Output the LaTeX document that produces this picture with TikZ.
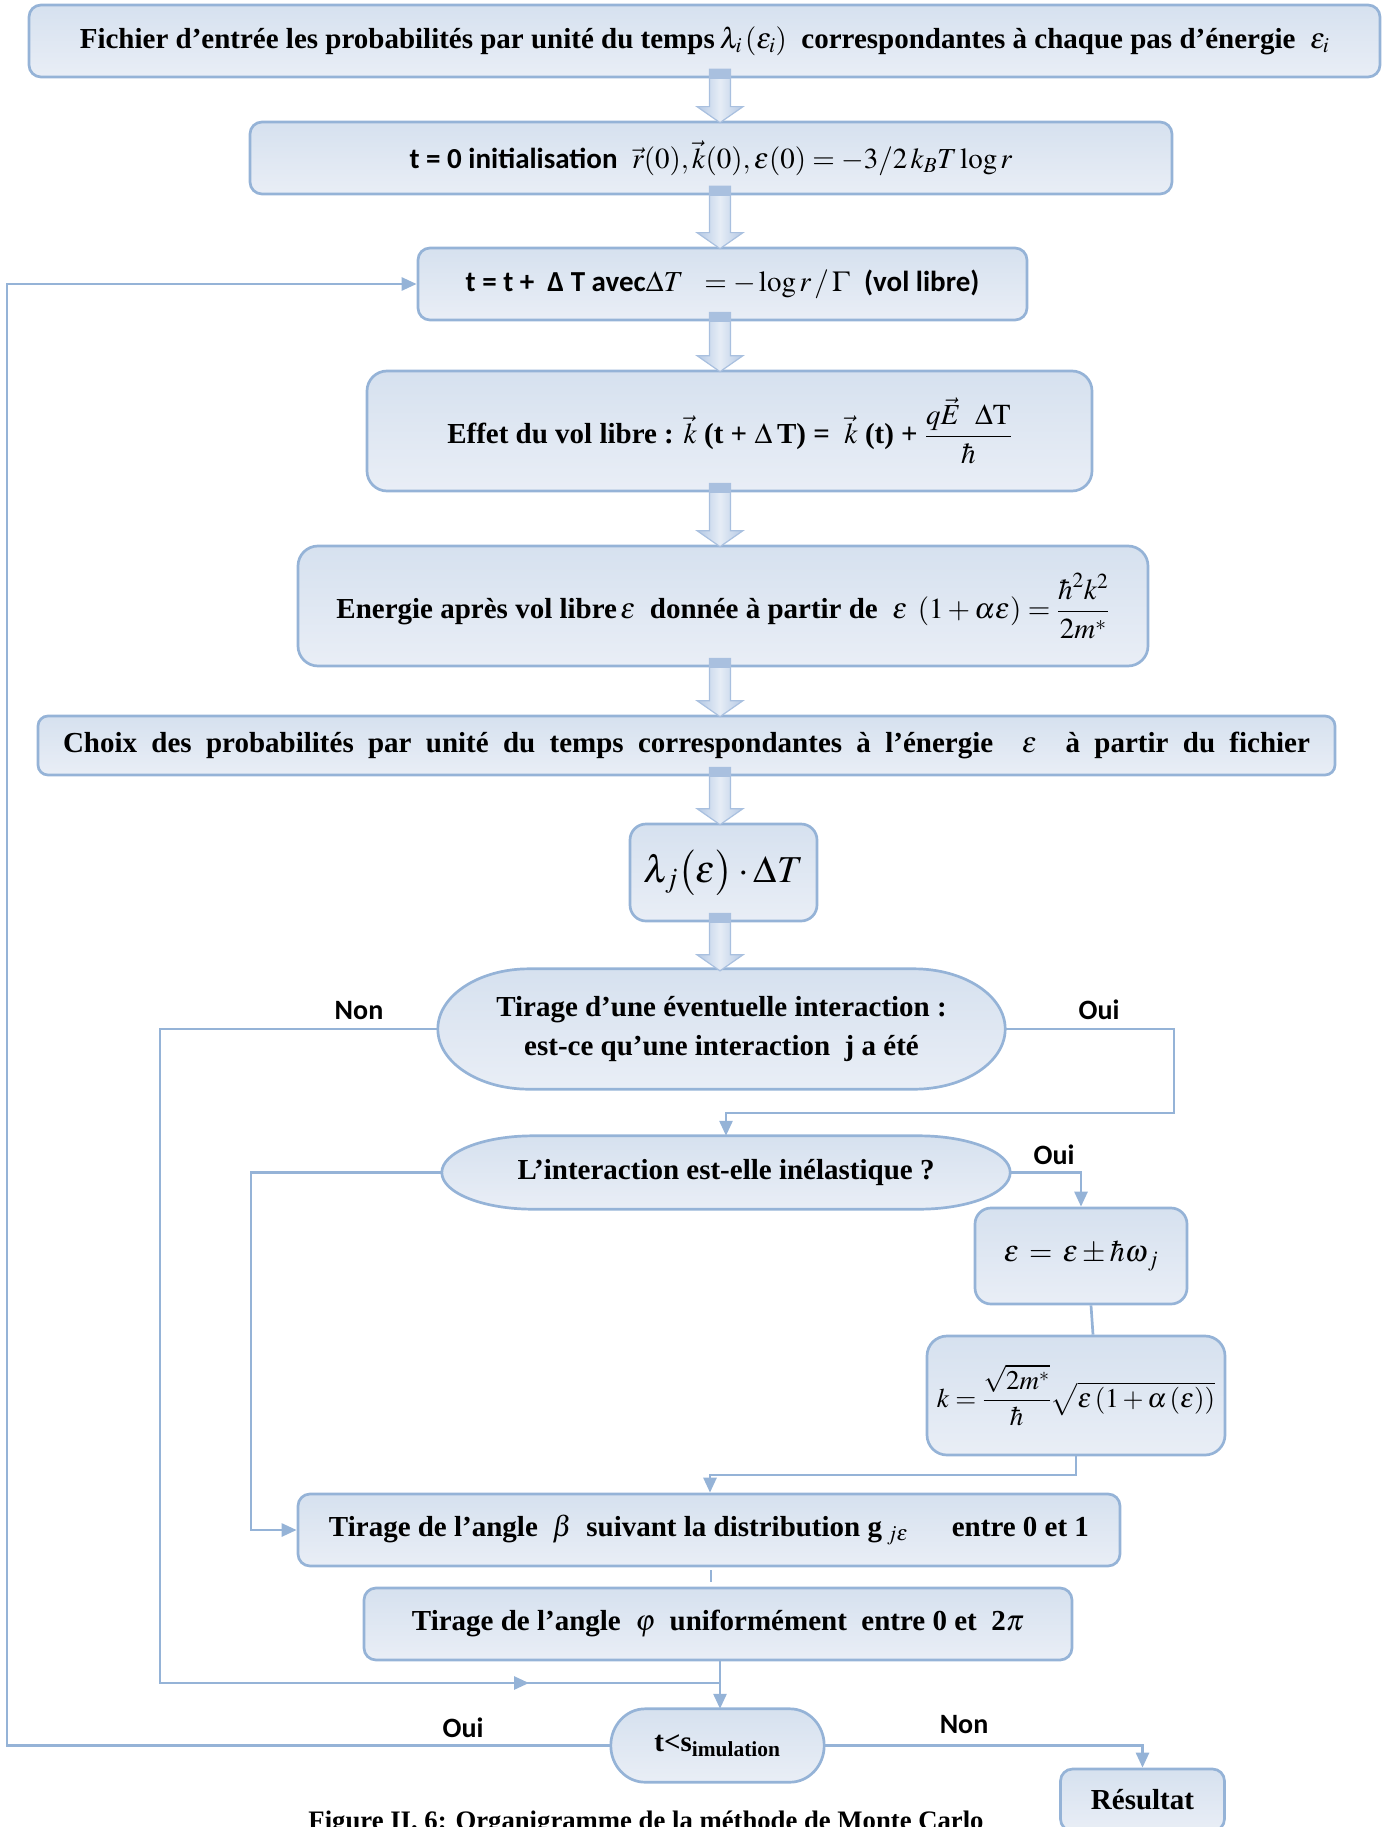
\documentclass[tikz,border=0pt]{standalone}
\usepackage{amsmath}
\usepackage{mathptmx}
\usepackage{fontspec}
\setmainfont{Liberation Serif}
\newfontfamily\calfont{Carlito}
\usetikzlibrary{arrows.meta,calc,backgrounds}
\definecolor{bord}{HTML}{95B3D7}
\definecolor{fillA}{HTML}{D6E1EF}
\definecolor{fillB}{HTML}{E9EEF6}
\definecolor{arrA}{HTML}{B4C8E4}
\definecolor{arrB}{HTML}{E6EDF6}
\definecolor{arrE}{HTML}{A9C0DF}
\newcommand\blkarrow[2]{%
  \path[blockarrow] let \p1=(#1.south -| axis), \p2=(#2.north -| axis) in
    (\x1-10.5pt,\y1+9pt) -- (\x1+10.5pt,\y1+9pt) -- (\x1+10.5pt,\y2+14pt)
    -- (\x1+23pt,\y2+14pt) -- (\x1,\y2-2pt) -- (\x1-23pt,\y2+14pt)
    -- (\x1-10.5pt,\y2+14pt) -- cycle;
  \path[blockcap] let \p1=(#1.south -| axis) in
    (\x1-10.5pt,\y1+9pt) rectangle (\x1+10.5pt,\y1-1pt);}
\newcommand\termpath[1]{%
  \path[termshape] let \p1=(#1.north west), \p2=(#1.south east),
     \n1={0.161*(\x2-\x1)}, \n2={(\y1-\y2)/2} in
     (\x1+\n1,\y1) -- (\x2-\n1,\y1)
     arc[start angle=90, end angle=-90, x radius=\n1, y radius=\n2]
     -- (\x1+\n1,\y2)
     arc[start angle=270, end angle=90, x radius=\n1, y radius=\n2] -- cycle;}
\begin{document}
\begin{tikzpicture}[x=1pt,y=1pt,
  box/.style={draw=bord, line width=2.7pt, rounded corners=12pt, top color=fillA, bottom color=fillB, inner sep=0pt, align=center, font=\fontsize{29}{35}\selectfont\bfseries},
  term/.style={inner sep=0pt, align=center, font=\fontsize{29}{39}\selectfont\bfseries},
  termshape/.style={draw=bord, line width=2.7pt, top color=fillA, bottom color=fillB},
  conn/.style={draw=bord, line width=2.7pt},
  tip/.style={-{Triangle[length=15pt,width=13pt]}},
  lbl/.style={font=\fontsize{28}{32}\selectfont\calfont\bfseries, inner sep=0pt},
  blockarrow/.style={draw=arrE, line width=1.2pt, left color=arrA, right color=arrA, middle color=arrB},
  blockcap/.style={fill=arrE},
]
\useasboundingbox (0,0) rectangle (1386,-1827);
\clip (0,0) rectangle (1386,-1827);
\coordinate (axis) at (720,0);

\node[box, minimum width=1351pt, minimum height=72pt] (b1) at (704.5,-41) {Fichier d’entrée les probabilités par unité du temps\,$\lambda_i\left(\varepsilon_i\right)$\ \ correspondantes à chaque pas d’énergie \ $\varepsilon_i$};
\node[box, minimum width=922pt, minimum height=72pt] (b2) at (711,-158) {{\calfont t = 0 initialisation}\ \ $\vec r(0),\vec k(0),\varepsilon(0)=-3/2\,k_BT\log r$};
\node[box, minimum width=609pt, minimum height=72pt] (b3) at (722.5,-284) {{\calfont t = t + \ Δ T avec}$\Delta T\ \ = -\log r\,/\,\Gamma$\ \ {\calfont (vol libre)}};
\node[box, minimum width=725pt, minimum height=120pt, rounded corners=20pt] (b4) at (729.5,-431) {Effet du vol libre : $\vec k$ (t + $\Delta$\,T) = \ $\vec k$ (t) + $\dfrac{q\vec E\ \ \Delta\mathrm{T}}{\hbar}$};
\node[box, minimum width=850pt, minimum height=120pt, rounded corners=20pt] (b5) at (723,-606) {Energie après vol libre$\,\varepsilon$\ \ donnée à partir de \ $\varepsilon\ \left(1+\alpha\varepsilon\right)=\dfrac{\hbar^2k^2}{2m^*}$};
\node[box, minimum width=1297pt, minimum height=59pt, rounded corners=10pt] (b6) at (686.5,-745.5) {\makebox[1247pt][s]{Choix des probabilités par unité du temps correspondantes à l’énergie \ $\varepsilon$ \ à partir du fichier}};
\node[box, minimum width=187pt, minimum height=97pt, rounded corners=16pt, font=\fontsize{38}{44}\selectfont] (b7) at (723.5,-872.5) {$\lambda_j\bigl(\varepsilon\bigr)\cdot\Delta T$};
\node[term, minimum width=567pt, minimum height=120pt] (s1) at (721.5,-1029) {Tirage d’une éventuelle interaction :\\ est-ce qu’une interaction \ j a été};
\node[term, minimum width=568pt, minimum height=73pt] (s2) at (726,-1172.5) {L’interaction est-elle inélastique ?};
\node[box, minimum width=212pt, minimum height=96pt, rounded corners=16pt, font=\fontsize{30}{36}\selectfont] (be) at (1081,-1256) {$\varepsilon\,=\,\varepsilon\pm\hbar\omega_{\,j}$};
\node[box, minimum width=298pt, minimum height=119pt, rounded corners=20pt, font=\fontsize{27}{32}\selectfont] (bk) at (1076,-1395.5) {$k=\dfrac{\sqrt{2m^*}}{\hbar}\sqrt{\varepsilon\left(1+\alpha\left(\varepsilon\right)\right)}$};
\node[box, minimum width=822pt, minimum height=72pt] (bb) at (709,-1530) {Tirage de l’angle \ $\beta$ \ suivant la distribution g\,$_{j\varepsilon}$\quad\ \ entre 0 et 1};
\node[box, minimum width=708pt, minimum height=72pt] (bp) at (718,-1624) {Tirage de l’angle \ $\varphi$ \ uniformément \ entre 0 et \ 2$\pi$};
\node[term, minimum width=213pt, minimum height=73pt] (tn) at (717.5,-1745.5) {t<s\textsubscript{imulation}};
\node[box, minimum width=164pt, minimum height=62pt, rounded corners=12pt] (res) at (1142.5,-1800) {Résultat};

\begin{scope}[on background layer]
  \termpath{s1}
  \termpath{s2}
  \termpath{tn}
\end{scope}

\node[lbl] (l1) at (359,-1011) {Non};
\node[lbl] (l2) at (1099,-1010) {Oui};
\node[lbl] (l3) at (1054,-1155) {Oui};
\node[lbl] (l4) at (463,-1728) {Oui};
\node[lbl] (l5) at (964,-1725) {Non};
\node[font=\fontsize{26.7}{30}\selectfont\bfseries, anchor=base, inner sep=0pt] (cap) at (646,-1829) {Figure II. 6: Organigramme de la méthode de Monte Carlo};

% connectors
\coordinate (cR) at (1174,-1113);
\draw[conn,tip] (s1.east) -| (cR) -| (s2.north);
\coordinate (cL) at (160,-1683);
\coordinate (cM) at (529,-1683);
\coordinate (cJ) at (720,-1683);
\draw[conn] (s1.west) -| (cL) -- (cJ);
\draw[conn,tip] (cL) -- (cM);
\draw[conn] (bp.south -| cJ) -- (cJ);
\draw[conn,tip] (cJ) -- (tn.north -| cJ);
\coordinate (cB) at (251,-1530);
\draw[conn,tip] (s2.west) -| (cB) -- (bb.west);
\draw[conn,tip] (s2.east) -| (be.north);
\coordinate (cE1) at (1091,0);
\coordinate (cE2) at (1093,0);
\draw[conn] (be.south -| cE1) -- (bk.north -| cE2);
\coordinate (cK) at (710,-1475);
\draw[conn,tip] (bk.south) |- (cK) -- (bb.north -| cK);
\coordinate (st1) at (711,-1570);
\coordinate (st2) at (711,-1582);
\draw[draw=bord, line width=1.2pt] (st1) -- (st2);
\coordinate (cO) at (7,0);
\draw[conn,tip] (tn.west) -- (tn.west -| cO) -- (b3.west -| cO) -- (b3.west);
\draw[conn,tip] (tn.east) -| (res.north);

% block arrows
\blkarrow{b1}{b2}
\blkarrow{b2}{b3}
\blkarrow{b3}{b4}
\blkarrow{b4}{b5}
\blkarrow{b5}{b6}
\blkarrow{b6}{b7}
\blkarrow{b7}{s1}
\end{tikzpicture}
\end{document}
